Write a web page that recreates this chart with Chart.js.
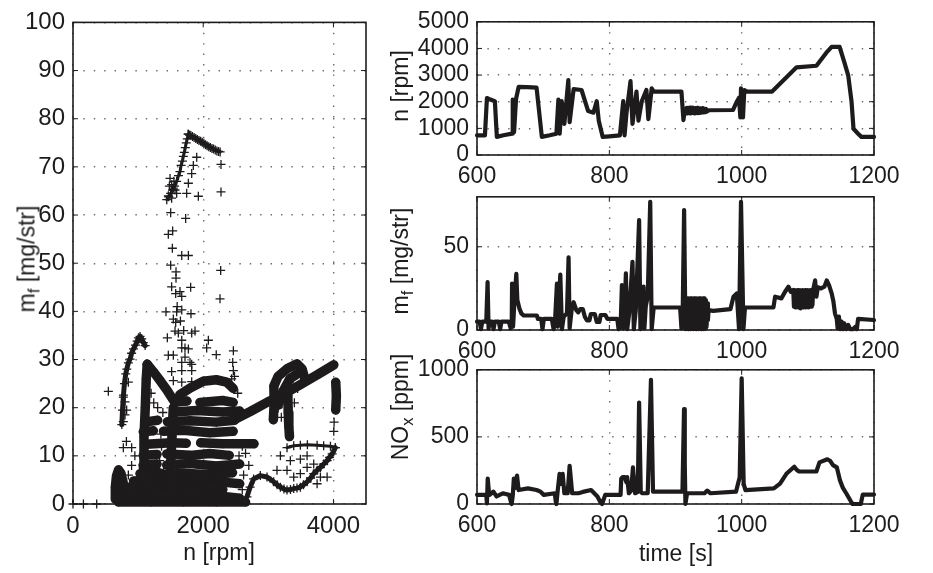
<!DOCTYPE html>
<html><head><meta charset="utf-8">
<script src="https://cdn.jsdelivr.net/npm/chart.js@4.4.1/dist/chart.umd.min.js"></script>
<style>
body{margin:0;background:#fff;width:933px;height:573px;overflow:hidden;position:relative;font-family:"Liberation Sans",Arial,sans-serif;color:#1e1b1c}
canvas{position:absolute}
.t{position:absolute;white-space:nowrap;font-size:23px;line-height:1}
.r{transform:translate(-50%,-50%) rotate(-90deg)}
.h{transform:translate(-50%,-50%)}
sub{font-size:72%;vertical-align:-0.32em;line-height:0}
</style></head><body>
<canvas id="cL" width="380" height="573" style="left:0px;top:0px"></canvas>
<canvas id="cT" width="553" height="200" style="left:380px;top:0px"></canvas>
<canvas id="cM" width="553" height="200" style="left:380px;top:175px"></canvas>
<canvas id="cB" width="553" height="225" style="left:380px;top:348px"></canvas>
<div class="t r" style="left:27px;top:259px">m<sub>f</sub> [mg/str]</div>
<div class="t h" style="left:219px;top:552px">n [rpm]</div>
<div class="t r" style="left:400px;top:86px">n [rpm]</div>
<div class="t r" style="left:400px;top:261px">m<sub>f</sub> [mg/str]</div>
<div class="t r" style="left:400px;top:407px">NO<sub>x</sub> [ppm]</div>
<div class="t h" style="left:676px;top:553px">time [s]</div>
<script>
// ---------------- data ----------------
const scatterXTicks = [0, 2000, 4000];
const scatterYTicks = [0, 10, 20, 30, 40, 50, 60, 70, 80, 90, 100];
const timeTicks = [600, 800, 1000, 1200];
const speedTicks = [0, 1000, 2000, 3000, 4000, 5000];
const fuelTicks = [0, 50];
const noxTicks = [0, 500, 1000];

// engine speed n [rpm] vs time [s]
const speedSeries = [[600,740],[612,740],[615,2140],[620,2080],[627,2020],[630,680],[640,740],[653,800],[654,2080],[656,860],[659,2100],[663,2560],[676,2550],[690,2530],[698,680],[710,740],[720,800],[723,2080],[725,800],[728,2020],[732,1170],[738,2810],[740,1230],[746,2470],[758,2440],[768,1650],[776,1590],[781,2020],[784,1290],[790,680],[800,700],[816,740],[821,2020],[823,740],[826,1590],[832,2770],[835,1170],[841,2380],[844,1290],[849,2020],[856,2440],[859,1350],[864,2500],[867,2380],[909,2380],[912,1310],[914,1710],[916,1580],[917,1770],[918,1560],[919,1770],[921,1570],[922,1780],[923,1560],[925,1770],[926,1580],[927,1770],[929,1560],[930,1760],[931,1580],[933,1770],[934,1570],[935,1760],[937,1580],[938,1750],[939,1590],[941,1760],[942,1600],[943,1740],[945,1610],[946,1730],[948,1640],[950,1680],[987,1690],[993,2020],[996,2150],[998,1410],[999,2500],[1002,1410],[1004,2440],[1008,2380],[1046,2380],[1083,3290],[1113,3350],[1128,3840],[1136,4060],[1148,4060],[1155,3500],[1161,2990],[1166,2020],[1169,985],[1176,800],[1181,680],[1200,680]];

// fuel mass m_f [mg/str] vs time [s]
const fuelSeries = [[600,5],[604,5],[606,0.5],[608,5],[614,5],[616,28.8],[617.5,1],[619,5],[623,5],[625,0.5],[627,5],[633,5],[635,0.5],[637,5],[648,5],[651,1],[652.5,5],[653,27.9],[654.5,2],[657,20],[659.4,33.7],[661,18],[664,13],[667,10],[670.5,8.7],[690.6,8.7],[692,6.7],[697,6.7],[699,0.5],[701,6.7],[713,6.7],[715.8,0.5],[718,6],[720.8,27.9],[722,2],[725.9,33.3],[728.4,0.5],[731,8],[736,10],[738.4,43.7],[740,1],[743,12],[746,16.7],[750,12],[753,10.6],[756,12.5],[760,12.5],[763,8],[766,5.8],[770,5.8],[772,9.6],[778,9.6],[781,4.8],[785,4.8],[787,9],[794,9],[797,6.7],[812,6.7],[814,0.5],[817,2],[819,27],[821,1],[823,8],[825,34],[827,0.5],[830,10],[835,41],[837,0.5],[840,12],[845,66],[847,0.5],[849,14],[851.7,26],[853,1],[855,14],[858,20],[861.8,77],[864,0.5],[867,13.5],[907,13.5],[909,1],[911,14],[913,72],[915,0.5],[916,19],[917,1],[918,19],[919,0.5],[920,19],[921,1],[922,19],[923,0.5],[924,19],[925,1],[926,19],[927,0.5],[928,19],[929,1],[930,19],[931,0.5],[932,19],[933,1],[934,19],[935,0.5],[936,19],[937,1],[938,19],[939,0.5],[940,19],[941,1],[942,19],[943,0.5],[944,19],[945,1],[946,18],[947,2],[948,16],[949,6],[950,12],[957,11.5],[983,12.5],[987.6,20],[992.6,22],[996,0.5],[999,77],[1002.7,0.5],[1005,13.5],[1048,13.5],[1050.5,20],[1060,19],[1065.6,23],[1070.7,26],[1074,23],[1078,24],[1079,14],[1080,24],[1081,13.5],[1082,23],[1083,14],[1084,24],[1085,13.5],[1086,23],[1087,14],[1088,24],[1089,13],[1090,23],[1091,14],[1092,24],[1093,13.5],[1094,23],[1095,14],[1096,24],[1097,13.5],[1098,23],[1099,14],[1100,24],[1101,13.5],[1102,23],[1103,14],[1104,24],[1105,14],[1106,23],[1107,15],[1108,24],[1111,29.8],[1113,20],[1115,25.6],[1120,25],[1125,26],[1128.6,29.8],[1132,27],[1136,22],[1138.6,17.3],[1141,10],[1143.7,6.7],[1145,1],[1147,8],[1148.7,0.5],[1151,5],[1153,0.5],[1155,4],[1158,0.5],[1161,3],[1164,0.5],[1168,0.5],[1172,2],[1174,0.5],[1176,6.7],[1200,6]];

// NOx [ppm] vs time [s]
const noxSeries = [[600,68],[614,68],[615,5],[616.2,190],[618,90],[619,68],[624.8,92],[629.5,56],[639,80],[648.6,68],[651,20],[652.4,0],[654,60],[655.7,190],[658,120],[660.5,212],[662.9,104],[677,116],[690,104],[696,92],[701,68],[717.6,80],[719,20],[720,0],[722,100],[724.8,225],[727,150],[729.5,225],[732,80],[737,80],[740,285],[743.8,80],[753.3,80],[760,90],[772.4,104],[782,56],[787,10],[789,0],[793.8,68],[817,68],[818,190],[820,200],[823,200],[826,160],[827,200],[829.5,80],[833,100],[835.7,273],[839,80],[843,90],[845,756],[847.5,90],[850,80],[858,80],[862.9,925],[866,92],[910.5,92],[912.9,708],[914,300],[915,0],[917.5,80],[943.8,80],[948,100],[953,80],[991.4,92],[997,200],[1000,937],[1003,150],[1005.7,104],[1048.6,116],[1058,152],[1067.6,225],[1079.5,278],[1083,255],[1086.7,242],[1112.9,242],[1117.6,310],[1129.5,333],[1134,320],[1138,290],[1143.8,273],[1148.6,176],[1153,120],[1158,80],[1165,20],[1167.6,0],[1180,0],[1183,70],[1200,70]];

// scatter n [rpm] vs m_f [mg/str]: dense trajectories
const denseStrokes = [
 [[700,0.4],[1200,0.4],[1700,0.4],[2200,0.4],[2650,0.4]],
 [[690,1.9],[1100,2.1],[1600,1.7],[2100,1.9],[2560,1.2]],
 [[680,3.4],[1000,3.6],[1400,3.3],[1900,3.5],[2300,3.0]],
 [[655,1],[650,3.5],[668,5.8],[700,7.1],[735,6.4],[770,4.5]],
 [[930,4.8],[1300,5],[1700,4.5],[2100,4.8],[2560,4.2]],
 [[1030,6.3],[1300,6.6],[1400,6.1],[1700,6.4],[2100,6.1],[2450,6.5]],
 [[1080,8.1],[1290,8.3]],
 [[1440,8.1],[1800,8.4],[2200,7.9],[2560,8.3]],
 [[1080,10.1],[1290,10.3]],
 [[1440,10.4],[1800,10.1],[2100,10.5],[2400,10.1]],
 [[1130,12.4],[1500,12.7],[1740,12.6]],
 [[1960,12.7],[2300,12.5],[2780,12.5]],
 [[1080,15],[1235,15.2]],
 [[1390,15.1],[1700,15.3],[2100,14.8],[2460,15.1]],
 [[1150,17.1],[1300,17.4]],
 [[1450,17.1],[1800,17.3],[2200,17.0],[2480,17.4]],
 [[1560,19.1],[1900,19.4],[2300,19.1],[2560,19.3]],
 [[1560,21.1],[1750,21.4]],
 [[1950,21.1],[2300,21.5],[2460,21.1]],
 [[1640,22.7],[1800,24.1],[2000,25.5],[2200,25.8],[2360,25.3],[2460,24]],
 [[1100,2],[1080,8],[1090,14],[1110,20],[1125,26],[1140,29]],
 [[1140,29],[1250,27.2],[1350,25.4],[1450,23.5],[1540,21.6]],
 [[1480,2],[1500,8],[1520,14],[1540,20]],
 [[2460,17.4],[2723,19.2],[2980,21.1],[3236,22.8],[3492,24.8],[3749,26.8],[4005,28.9]],
 [[3077,17.5],[3090,21],[3085,24.5],[3150,26.5],[3300,28.2],[3441,29.1],[3520,28],[3560,26]],
 [[3150,20.5],[3230,23.5],[3330,26],[3440,27]],
 [[3300,22.5],[3305,19],[3315,16],[3325,14]],
 [[4035,25.3],[4045,22.5],[4035,19.5]]
];
// scatter: medium trajectories (lens lower arc)
const mediumStrokes = [
 [[2672,1.5],[2720,3.5],[2774,5.2],[2877,5.9],[2980,5.6],[3082,4.6],[3135,4],[3185,3.5],[3240,3.1],[3287,2.9],[3340,3],[3390,3.2],[3440,3.3],[3492,3.5],[3540,4],[3595,4.6],[3650,5.4],[3697,6.3],[3750,7],[3800,7.6],[3850,8.3],[3903,9],[3940,9.7],[3980,10.4],[4030,11.7]],
 [[750,16.5],[760,19.5],[775,22.6],[790,25],[810,27],[826,28],[850,29.3],[877,30.1],[900,31.3],[928,32.2],[960,33],[985,33.8],[1005,34.5],[1030,34.8],[1056,34.3],[1080,33.5],[1108,32.9]]
];
// scatter: lighter trajectories
const lightStrokes = [
 [[1770,76.8],[1790,76.6],[1810,76.5],[1835,76.3],[1860,76.1],[1885,75.9],[1910,75.7],[1935,75.5],[1960,75.3],[1985,75.1],[2010,74.9],[2035,74.6],[2060,74.4],[2085,74.2],[2110,74],[2135,73.8],[2160,73.7],[2185,73.5],[2210,73.3],[2235,73.2],[2260,73.1]],
 [[1440,63.2],[1470,63.8],[1500,64.5],[1530,65.2],[1560,66],[1592,67],[1620,68.2],[1643,69],[1660,70.3],[1680,71.2],[1695,72.2],[1710,73],[1725,74],[1740,75],[1755,75.8],[1770,76.8]],
 [[3287,11.7],[3390,12.1],[3492,12.2],[3600,12.3],[3749,12.2],[3850,12.1],[3954,12],[4030,11.7]]
];
// scatter: isolated points
const loosePoints = [[1464,64],[1490,67.6],[1515,66.3],[1541,65.6],[1567,65.2],[1592,64.5],[1515,63.5],[1480,66],[1550,67],[1900,72],[1848,70.3],[1823,68.6],[1772,66.6],[1925,63.9],[1746,64.5],[2273,70.5],[2273,64.8],[1730,59.3],[1500,60.5],[1464,56],[1531,56.7],[1526,53.1],[1670,51.6],[1772,51.6],[1500,49.6],[1582,48.2],[2268,48.5],[1582,46.9],[1515,45.1],[1807,45],[1643,44.1],[1670,43.1],[2258,42.6],[1577,43.7],[1428,39.9],[1592,39.9],[1670,40.3],[1812,39.5],[1541,38.4],[1577,37.7],[1567,35.9],[1618,35.5],[1670,34],[1823,35.5],[1874,35.9],[1449,34.5],[2053,32.4],[2079,34],[1670,32.4],[1720,32.4],[1772,32.2],[1464,30.9],[1541,30.9],[1670,29.4],[1797,29.4],[1823,29],[1515,27.5],[1670,27.7],[1823,27.7],[1541,25.6],[1670,25.3],[1823,25.4],[2463,31.8],[2453,29.4],[2463,27.7],[2437,26],[543,23.4],[0,0],[160,0],[364,0],[773,22.2],[799,21.2],[799,18.5],[773,17.1],[824,19.5],[773,11.7],[901,11.7],[850,25.3],[1600,41],[1650,38],[1700,36],[1720,30.5],[2200,31],[3185,10],[3338,9],[3492,9.3],[3595,10],[3133,7],[3287,7],[3390,5.6],[3492,6.3],[3595,7.6],[3697,8.3],[3800,5.6],[3903,5.6],[3749,4.2],[3150,20],[3200,22],[3250,24],[3380,26],[3450,24],[3400,21],[3200,18],[4005,15.1],[4010,17],[2600,12],[2620,6],[2550,10],[1240,21],[1300,20],[1380,19],[1200,23],[2650,10.5],[2700,8],[2600,3],[1360,12],[1330,9],[1390,7],[1350,14.5],[850,6],[900,8],[950,10],[820,13],[2480,26.5],[2530,23]];

// ---------------- drawing ----------------
const INK = '#1e1b1c';
const FONT = '"Liberation Sans", Arial, sans-serif';
const toXY = arr => arr.map(([x, y]) => ({x, y}));

const framePlugin = {
  id: 'frame',
  afterDraw(chart) {
    const {ctx, chartArea: a, scales} = chart;
    ctx.save();
    ctx.strokeStyle = INK;
    ctx.lineWidth = 1;
    ctx.beginPath();
    const tl = 5;
    scales.x.ticks.forEach(t => {
      const p = scales.x.getPixelForValue(t.value);
      ctx.moveTo(p, a.bottom); ctx.lineTo(p, a.bottom - tl);
      ctx.moveTo(p, a.top); ctx.lineTo(p, a.top + tl);
    });
    scales.y.ticks.forEach(t => {
      const p = scales.y.getPixelForValue(t.value);
      ctx.moveTo(a.left, p); ctx.lineTo(a.left + tl, p);
      ctx.moveTo(a.right, p); ctx.lineTo(a.right - tl, p);
    });
    ctx.stroke();
    ctx.lineWidth = 1.6;
    ctx.strokeRect(a.left, a.top, a.right - a.left, a.bottom - a.top);
    ctx.restore();
  }
};

function axis(min, max, ticks, fixed, isX, fontSize) {
  return {
    type: 'linear', min, max,
    afterBuildTicks: s => { s.ticks = ticks.map(v => ({value: v})); },
    afterFit: s => { if (isX) s.height = fixed; else s.width = fixed; },
    ticks: {font: {family: FONT, size: fontSize}, color: INK, padding: 8, maxRotation: 0, autoSkip: false,
            callback: v => String(v)},
    grid: {color: '#6a6a6a', lineWidth: 1.4, drawTicks: false},
    border: {display: false, dash: [1.4, 9]}
  };
}

function makeChart(id, datasets, xs, ys, pad) {
  return new Chart(document.getElementById(id), {
    type: 'scatter',
    data: {datasets},
    options: {
      responsive: false, animation: false, devicePixelRatio: 1,
      layout: {padding: pad},
      plugins: {legend: {display: false}, tooltip: {enabled: false}},
      scales: {x: xs, y: ys}
    },
    plugins: [framePlugin]
  });
}

function lineSet(series) {
  return {data: toXY(series), showLine: true, borderColor: INK, borderWidth: 4.2,
          pointRadius: 0, tension: 0, clip: false, borderJoinStyle: 'round', borderCapStyle: 'round'};
}

function strokeSet(s, width) {
  return {data: toXY(s), showLine: true, borderColor: INK, borderWidth: width,
    borderCapStyle: 'round', borderJoinStyle: 'round',
    pointStyle: 'cross', pointRadius: 4.5, pointBorderWidth: 1.3, pointBorderColor: INK, clip: false, tension: 0};
}

// left scatter
const scatterSets = [];
denseStrokes.forEach(s => scatterSets.push(strokeSet(s, 9.5)));
mediumStrokes.forEach(s => scatterSets.push(strokeSet(s, 5)));
lightStrokes.forEach(s => scatterSets.push(strokeSet(s, 3)));
scatterSets.push({data: toXY(loosePoints), showLine: false, pointStyle: 'cross', pointRadius: 4.5,
  pointBorderWidth: 1.3, pointBorderColor: INK, clip: false});

makeChart('cL', scatterSets,
  axis(0, 4500, scatterXTicks, 69, true, 24),
  axis(0, 100, scatterYTicks, 73, false, 24),
  {top: 15, right: 14, left: 0, bottom: 0});

makeChart('cT', [lineSet(speedSeries)],
  axis(600, 1200, timeTicks, 45, true, 23),
  axis(0, 5000, speedTicks, 97, false, 23),
  {top: 17, right: 59, left: 0, bottom: 0});

makeChart('cM', [lineSet(fuelSeries)],
  axis(600, 1200, timeTicks, 45, true, 23),
  axis(0, 80, fuelTicks, 97, false, 23),
  {top: 17, right: 59, left: 0, bottom: 0});

makeChart('cB', [lineSet(noxSeries)],
  axis(600, 1200, timeTicks, 69, true, 23),
  axis(0, 1000, noxTicks, 97, false, 23),
  {top: 17, right: 59, left: 0, bottom: 0});
</script>
</body></html>
